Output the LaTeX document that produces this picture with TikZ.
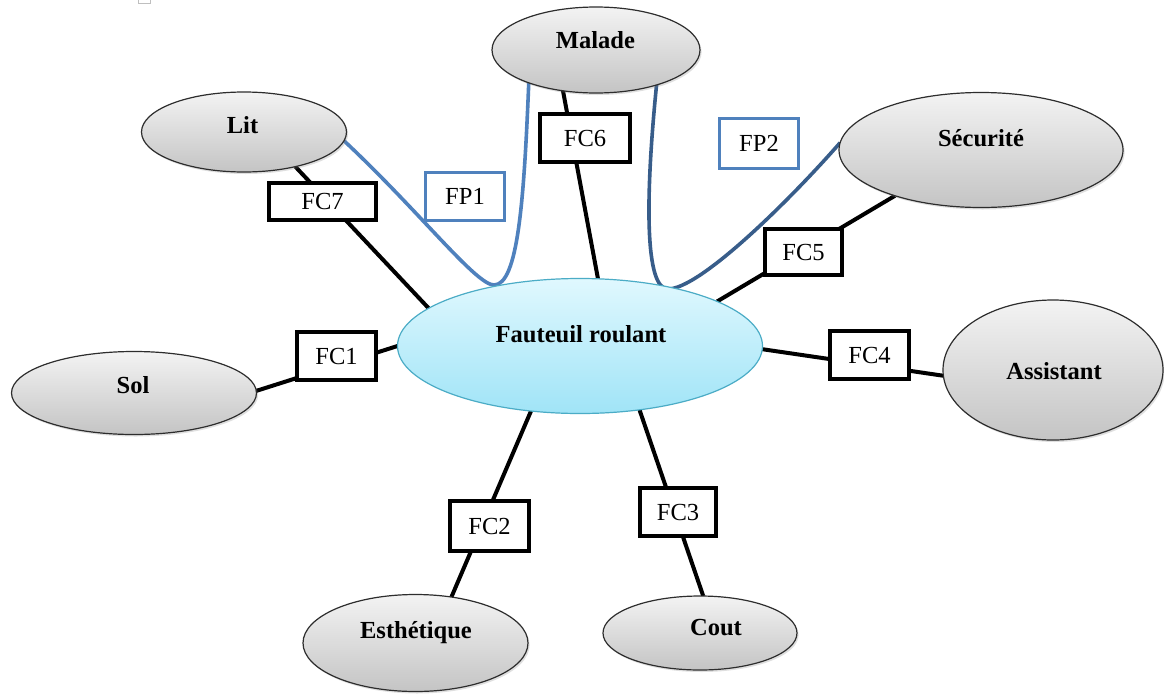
\documentclass[tikz,border=0pt]{standalone}
\usepackage{fontspec}
\setmainfont{Liberation Serif}
\usetikzlibrary{shapes.geometric,shadows,backgrounds}
\definecolor{fpblue}{RGB}{79,129,189}
\definecolor{fpdark}{RGB}{56,93,138}
\definecolor{fauedge}{RGB}{75,172,198}
\definecolor{fautop}{RGB}{224,248,254}
\definecolor{faubot}{RGB}{160,228,247}
\definecolor{grtop}{RGB}{243,243,243}
\definecolor{grbot}{RGB}{196,196,196}
\definecolor{gredge}{RGB}{45,45,45}
\begin{document}
\begin{tikzpicture}[x=0.75pt,y=-0.75pt,
  every node/.style={inner sep=0pt,outer sep=0pt},
  actor/.style={ellipse,draw=gredge,line width=0.9pt,top color=grtop,bottom color=grbot,
    drop shadow={opacity=0.25,shadow xshift=1.2pt,shadow yshift=-1.5pt}},
  central/.style={ellipse,draw=fauedge,line width=0.9pt,top color=fautop,bottom color=faubot},
  lbl/.style={anchor=base,font=\fontsize{18.4}{22}\selectfont\bfseries},
  fcbox/.style={draw=black,line width=3pt,fill=white,font=\fontsize{18.4}{22}\selectfont},
  fpbox/.style={draw=fpblue,line width=2.5pt,fill=white,font=\fontsize{18.4}{22}\selectfont},
  link/.style={line width=3pt,black},
  fpline/.style={line width=2.7pt,fpblue},
  fplinedark/.style={line width=2.7pt,fpdark}]
\useasboundingbox (0,0) rectangle (1164,693);

% ellipses
\node[central,minimum width=273.75pt,minimum height=101.25pt] (fau) at (580,346) {};
\node[actor,minimum width=156pt,minimum height=64.5pt] (mal) at (596,50) {};
\node[actor,minimum width=153.75pt,minimum height=60pt] (lit) at (244,132) {};
\node[actor,minimum width=213pt,minimum height=86.25pt] (sec) at (981,150) {};
\node[actor,minimum width=183.75pt,minimum height=62.25pt] (sol) at (134,393) {};
\node[actor,minimum width=165pt,minimum height=105pt] (ast) at (1053,370) {};
\node[actor,minimum width=168.75pt,minimum height=72.75pt] (est) at (415.5,643) {};
\node[actor,minimum width=145.5pt,minimum height=55.5pt] (cout) at (700,633) {};

% ellipse texts
\node[lbl] (falT) at (581,342) {Fauteuil roulant};
\node[lbl] (malT) at (595.5,48) {Malade};
\node[lbl] (litT) at (242.5,133) {Lit};
\node[lbl] (secT) at (981,146) {Sécurité};
\node[lbl] (solT) at (133,393) {Sol};
\node[lbl] (astT) at (1054,379) {Assistant};
\node[lbl] (estT) at (416,638) {Esthétique};
\node[lbl] (coutT) at (716,635) {Cout};

% connectors
\begin{pgfonlayer}{background}
\fill[white] (0,0) rectangle (1164,693);
\draw[gray!50,line width=0.6pt] (138,-6) rectangle (150,3);
\draw[link] (lit.-34.5) -- (fau.166.9);
\draw[link] (mal.-129.9) -- (fau.75);
\draw[link] (sec.-152.5) -- (fau.18.4);
\draw[link] (sol.1) -- (fau.180);
\draw[link] (ast.-177.4) -- (fau.-1.3);
\draw[link] (est.52.7) -- (fau.-127.8);
\draw[link] (cout.85.4) -- (fau.-47.7);
\draw[fpline] (lit.-5) .. controls (420,212) and (476,285) .. (494,285)
  .. controls (518,285) and (524,200) .. (mal.-154);
\draw[fplinedark] (mal.-30) .. controls (645,200) and (645,289) .. (668,289)
  .. controls (700,289) and (790,200) .. (sec.177);
\end{pgfonlayer}

% boxes
\node[fcbox,minimum width=80.25pt,minimum height=27.75pt] (fc7) at (322.5,201.5) {FC7};
\node[fcbox,minimum width=67.5pt,minimum height=36pt] (fc6) at (585,138) {FC6};
\node[fcbox,minimum width=57.75pt,minimum height=34.5pt] (fc5) at (803.5,252) {FC5};
\node[fcbox,minimum width=59.25pt,minimum height=36pt] (fc1) at (336.5,356) {FC1};
\node[fcbox,minimum width=59.25pt,minimum height=36pt] (fc4) at (869.5,355) {FC4};
\node[fcbox,minimum width=59.25pt,minimum height=37.5pt] (fc2) at (489.5,526) {FC2};
\node[fcbox,minimum width=57pt,minimum height=36pt] (fc3) at (678,512) {FC3};
\node[fpbox,minimum width=59.25pt,minimum height=36pt] (fp1) at (465,196.5) {FP1};
\node[fpbox,minimum width=59.25pt,minimum height=37.5pt] (fp2) at (759,143.5) {FP2};
\end{tikzpicture}
\end{document}
